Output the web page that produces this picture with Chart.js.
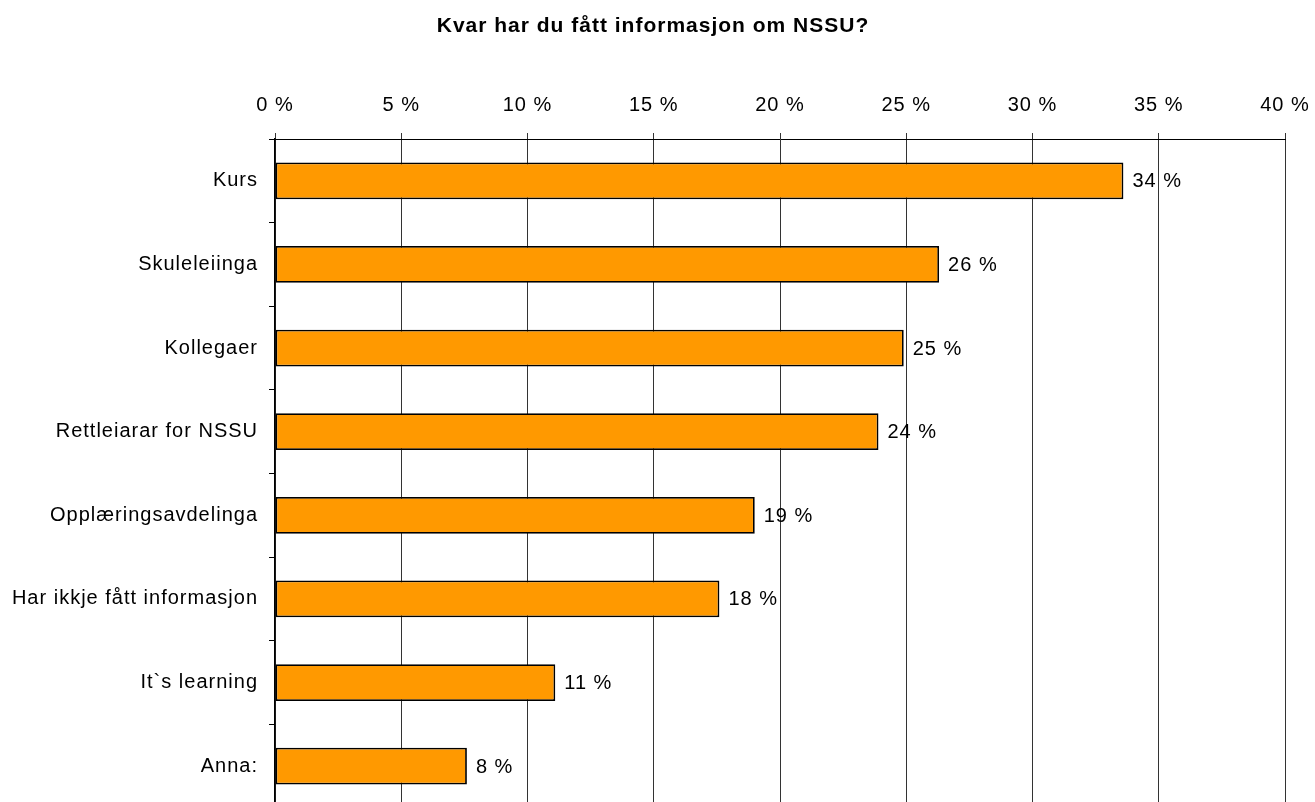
<!DOCTYPE html>
<html>
<head>
<meta charset="utf-8">
<script src="https://cdn.jsdelivr.net/npm/chart.js@4/dist/chart.umd.min.js"></script>
<style>
    html, body { margin: 0; padding: 0; background: #fff; overflow: hidden; }
    #chart { display: block; }
</style>
</head>
<body>
<canvas id="chart" width="1315" height="810"></canvas>
<script>
// Data (percent)
const categories = [
    'Kurs',
    'Skuleleiinga',
    'Kollegaer',
    'Rettleiarar for NSSU',
    'Opplæringsavdelinga',
    'Har ikkje fått informasjon',
    'It`s learning',
    'Anna:'
];
const values = [33.6, 26.3, 24.9, 23.9, 19.0, 17.6, 11.1, 7.6];
const tickMin = 0;
const tickMax = 40;
const tickStep = 5;
const titleText = 'Kvar har du fått informasjon om NSSU?';

const fontFamily = "'Liberation Sans', Arial, sans-serif";

// The original text is a bit spread out, so widen letters on the canvas
const letterSpacing = {
    id: 'letterSpacing',
    beforeLayout(chart) { chart.ctx.letterSpacing = '1px'; },
    beforeDraw(chart) { chart.ctx.letterSpacing = '1px'; }
};

// Title drawn by hand so it sits where the original has it
const chartTitle = {
    id: 'chartTitle',
    afterDraw(chart) {
        const ctx = chart.ctx;
        ctx.save();
        ctx.font = 'bold 21px ' + fontFamily;
        ctx.fillStyle = '#000';
        ctx.textAlign = 'center';
        ctx.textBaseline = 'alphabetic';
        ctx.fillText(titleText, 653, 32);
        ctx.restore();
    }
};

// Value labels to the right of each bar
const barLabels = {
    id: 'barLabels',
    afterDatasetsDraw(chart) {
        const ctx = chart.ctx;
        const meta = chart.getDatasetMeta(0);
        ctx.save();
        ctx.font = '20px ' + fontFamily;
        ctx.fillStyle = '#000';
        ctx.textAlign = 'left';
        ctx.textBaseline = 'middle';
        meta.data.forEach((bar, i) => {
            ctx.fillText(Math.round(values[i]) + ' %', bar.x + 9, bar.y + 1);
        });
        ctx.restore();
    }
};

const ctx = document.getElementById('chart').getContext('2d');
new Chart(ctx, {
    type: 'bar',
    data: {
        labels: categories,
        datasets: [{
            data: values,
            backgroundColor: '#ff9900',
            borderColor: '#000',
            borderWidth: 1.8,
            borderSkipped: false,
            barPercentage: 0.44,
            categoryPercentage: 1
        }]
    },
    options: {
        indexAxis: 'y',
        responsive: false,
        animation: false,
        layout: {
            padding: { left: 0, right: 30, top: 47, bottom: 2 }
        },
        plugins: {
            legend: { display: false },
            tooltip: { enabled: false },
            title: { display: false }
        },
        scales: {
            x: {
                position: 'top',
                min: tickMin,
                max: tickMax,
                grid: {
                    color: '#333',
                    lineWidth: 1,
                    tickLength: 6,
                    drawTicks: true
                },
                border: { color: '#000', width: 1 },
                ticks: {
                    stepSize: tickStep,
                    color: '#000',
                    padding: 16,
                    font: { family: fontFamily, size: 20 },
                    callback: (v) => v + ' %'
                },
                afterFit: (scale) => {
                    scale.height = 92;
                    scale.paddingLeft = 0;
                    scale.paddingRight = 0;
                }
            },
            y: {
                grid: {
                    drawOnChartArea: false,
                    tickLength: 6,
                    color: '#000',
                    offset: true
                },
                border: { color: '#000', width: 1.5 },
                ticks: {
                    color: '#000',
                    padding: 11,
                    font: { family: fontFamily, size: 20 }
                },
                afterFit: (scale) => {
                    scale.width = 275;
                    scale.paddingTop = 0;
                    scale.paddingBottom = 0;
                }
            }
        }
    },
    plugins: [letterSpacing, barLabels, chartTitle]
});
</script>
</body>
</html>
